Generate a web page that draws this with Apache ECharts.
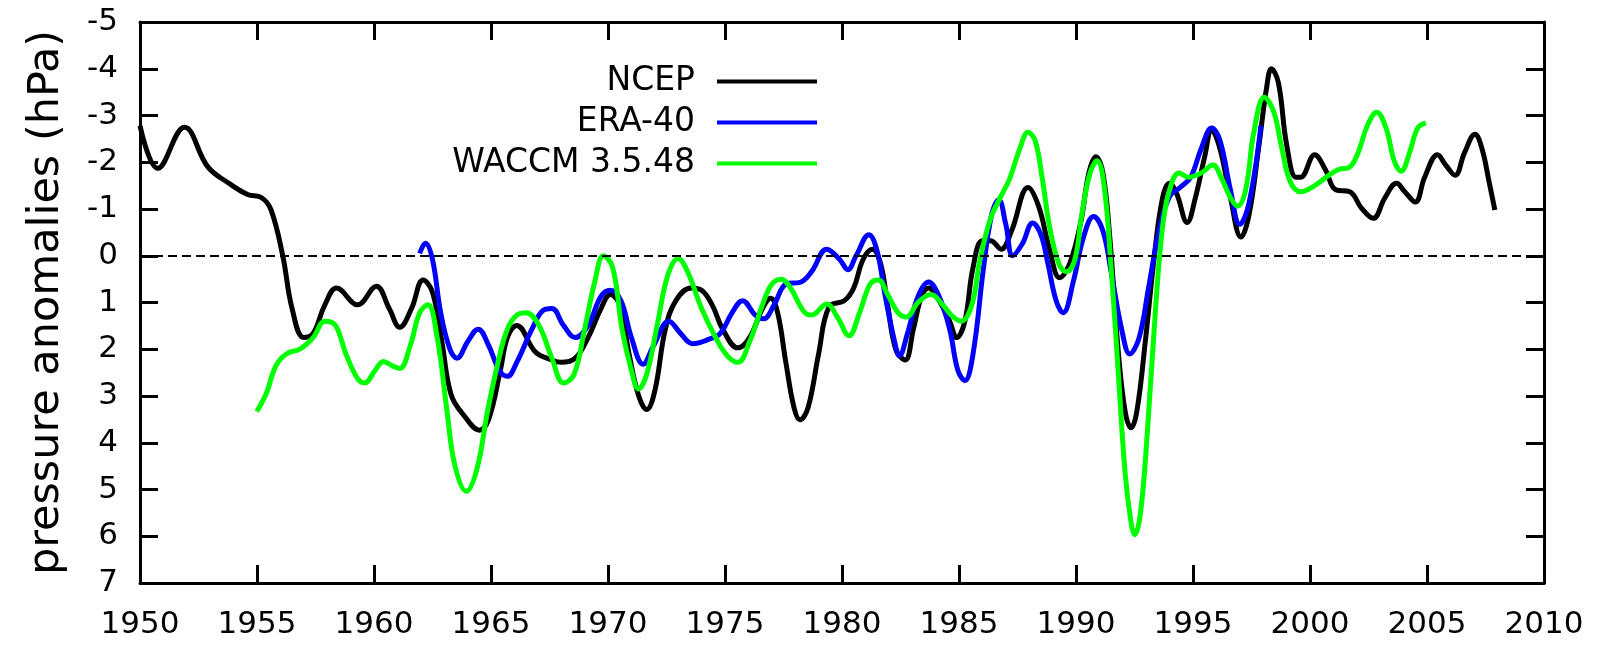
<!DOCTYPE html>
<html>
<head>
<meta charset="utf-8">
<title>pressure anomalies</title>
<script src="https://cdn.jsdelivr.net/npm/echarts@6/dist/echarts.min.js"></script>
<style>
html, body { margin: 0; padding: 0; background: #fff; }
#chart { width: 1602px; height: 645px; }
</style>
</head>
<body>
<div id="chart"></div>
<script>
// values (hPa, axis drawn upside down)
var ncepYears = [1950.0, 1950.76, 1951.9, 1952.9, 1953.8, 1954.6, 1955.2, 1955.6, 1956.1, 1956.5, 1957.0, 1957.4, 1957.9, 1958.4, 1959.3, 1960.1, 1960.65, 1961.1, 1961.6, 1962.1, 1962.5, 1962.9, 1963.3, 1963.85, 1964.5, 1964.9, 1965.4, 1965.7, 1966.1, 1966.9, 1967.6, 1968.0, 1968.6, 1969.15, 1969.7, 1970.1, 1970.5, 1970.9, 1971.3, 1971.65, 1972.0, 1972.45, 1972.9, 1973.55, 1974.0, 1974.45, 1974.9, 1975.55, 1976.05, 1976.6, 1976.95, 1977.25, 1977.6, 1977.95, 1978.2, 1978.55, 1979.0, 1979.45, 1980.1, 1980.5, 1980.9, 1981.3, 1981.65, 1981.95, 1982.3, 1982.7, 1983.05, 1983.4, 1983.7, 1984.15, 1984.6, 1984.9, 1985.25, 1985.6, 1986.0, 1986.35, 1986.8, 1987.25, 1987.95, 1988.4, 1988.85, 1989.3, 1989.73, 1990.2, 1990.55, 1990.85, 1991.15, 1991.45, 1991.8, 1992.1, 1992.35, 1992.6, 1992.98, 1993.35, 1993.7, 1994.0, 1994.3, 1994.75, 1995.1, 1995.5, 1995.8, 1996.15, 1996.6, 1997.05, 1997.4, 1997.8, 1998.15, 1998.35, 1998.65, 1999.0, 1999.4, 1999.6, 2000.2, 2000.65, 2001.1, 2001.7, 2002.2, 2002.7, 2003.2, 2003.7, 2004.05, 2004.5, 2004.9, 2005.45, 2005.8, 2006.2, 2006.6, 2007.05, 2007.35, 2007.65, 2007.9]
var ncepValues = [-2.78, -1.87, -2.75, -1.90, -1.55, -1.31, -1.24, -0.98, 0, 1.13, 1.75, 1.66, 1.05, 0.69, 1.05, 0.65, 1.13, 1.53, 1.13, 0.52, 0.78, 1.84, 2.98, 3.42, 3.73, 3.5, 2.45, 1.75, 1.49, 2.06, 2.23, 2.28, 2.19, 1.75, 1.13, 0.83, 1.05, 2.10, 2.98, 3.29, 2.89, 1.57, 0.96, 0.69, 0.74, 1.05, 1.57, 1.97, 1.75, 1.13, 0.91, 1.22, 2.28, 3.25, 3.51, 3.25, 2.10, 1.09, 0.96, 0.69, 0.08, -0.14, 0.17, 1.05, 2.01, 2.23, 1.57, 0.87, 0.69, 0.96, 1.40, 1.75, 1.40, 0.25, -0.32, -0.32, -0.14, -0.54, -1.46, -1.06, -0.18, 0.47, 0.17, -0.71, -1.77, -2.12, -1.77, -0.36, 2.01, 3.33, 3.68, 3.33, 1.75, 0, -1.24, -1.55, -1.33, -0.71, -1.24, -2.12, -2.69, -2.29, -1.24, -0.4, -0.89, -2.29, -3.61, -4.0, -3.70, -2.38, -1.68, -1.68, -2.16, -1.85, -1.41, -1.37, -1.02, -0.80, -1.24, -1.55, -1.37, -1.15, -1.68, -2.16, -1.94, -1.72, -2.2, -2.60, -2.29, -1.59, -0.98]

var eraYears = [1961.95, 1962.2, 1962.5, 1962.85, 1963.25, 1963.55, 1964.0, 1964.45, 1964.9, 1965.35, 1965.7, 1966.1, 1966.75, 1967.2, 1967.6, 1968.1, 1968.6, 1969.15, 1969.7, 1970.1, 1970.55, 1971.0, 1971.5, 1971.95, 1972.6, 1973.1, 1973.6, 1974.3, 1974.8, 1975.3, 1975.75, 1976.3, 1976.65, 1977.1, 1977.6, 1978.25, 1978.7, 1979.35, 1979.9, 1980.25, 1980.6, 1981.15, 1981.5, 1981.85, 1982.25, 1982.45, 1982.8, 1983.25, 1983.7, 1984.15, 1984.6, 1984.95, 1985.25, 1985.6, 1986.05, 1986.4, 1986.7, 1987.0, 1987.3, 1987.7, 1988.15, 1988.5, 1988.8, 1989.15, 1989.45, 1989.9, 1990.3, 1990.75, 1991.15, 1991.5, 1991.95, 1992.3, 1992.7, 1993.1, 1993.55, 1994.0, 1994.45, 1994.9, 1995.35, 1995.8, 1996.15, 1996.6, 1997.0, 1997.4, 1997.9]
var eraValues = [-0.05, -0.27, 0.08, 1.22, 2.01, 2.19, 1.84, 1.57, 1.92, 2.45, 2.58, 2.28, 1.57, 1.18, 1.13, 1.49, 1.75, 1.49, 0.87, 0.74, 0.96, 1.75, 2.32, 1.92, 1.40, 1.66, 1.88, 1.79, 1.66, 1.22, 0.96, 1.27, 1.35, 1.05, 0.61, 0.56, 0.34, -0.14, 0.08, 0.30, 0, -0.45, -0.10, 0.87, 1.84, 2.14, 1.66, 0.87, 0.56, 0.87, 1.57, 2.45, 2.67, 2.10, 0.25, -0.89, -1.20, -0.67, 0, -0.25, -0.70, -0.45, 0.17, 0.96, 1.22, 0.52, -0.36, -0.84, -0.53, 0.34, 1.57, 2.10, 1.75, 0.69, -0.54, -1.27, -1.46, -1.68, -2.29, -2.73, -2.47, -1.41, -0.67, -1.14, -2.78]

var wacYears = [1954.99, 1955.4, 1955.8, 1956.25, 1956.85, 1957.4, 1957.9, 1958.35, 1958.8, 1959.3, 1959.6, 1960.05, 1960.4, 1960.8, 1961.1, 1961.55, 1961.95, 1962.3, 1962.7, 1963.1, 1963.45, 1963.95, 1964.4, 1964.85, 1965.3, 1965.7, 1966.1, 1966.5, 1967.05, 1967.6, 1968.1, 1968.55, 1969.0, 1969.45, 1969.8, 1970.2, 1970.6, 1971.0, 1971.3, 1971.65, 1972.1, 1972.55, 1973.0, 1973.4, 1974.0, 1974.6, 1975.1, 1975.55, 1976.05, 1976.6, 1977.0, 1977.4, 1977.8, 1978.35, 1978.7, 1979.35, 1979.8, 1980.3, 1980.75, 1981.2, 1981.55, 1981.95, 1982.4, 1982.75, 1983.25, 1983.8, 1984.3, 1984.75, 1985.1, 1985.55, 1985.9, 1986.35, 1986.8, 1987.15, 1987.6, 1987.95, 1988.25, 1988.55, 1988.9, 1989.3, 1989.6, 1989.95, 1990.25, 1990.6, 1990.9, 1991.2, 1991.5, 1991.8, 1992.1, 1992.35, 1992.5, 1992.75, 1993.05, 1993.4, 1993.7, 1994.0, 1994.4, 1994.8, 1995.35, 1995.85, 1996.2, 1996.6, 1996.9, 1997.25, 1997.6, 1998.05, 1998.45, 1998.8, 1999.15, 1999.6, 2000.2, 2000.8, 2001.25, 2001.7, 2002.05, 2002.45, 2002.85, 2003.25, 2003.6, 2003.9, 2004.25, 2004.6, 2004.95]
var wacValues = [3.33, 2.94, 2.36, 2.10, 1.99, 1.75, 1.40, 1.49, 2.10, 2.63, 2.72, 2.45, 2.26, 2.36, 2.41, 1.92, 1.22, 1.05, 1.75, 3.24, 4.47, 5.04, 4.56, 3.33, 2.28, 1.57, 1.27, 1.22, 1.49, 2.19, 2.72, 2.54, 1.57, 0.52, 0, 0.25, 1.57, 2.45, 2.85, 2.54, 1.49, 0.43, 0.06, 0.34, 1.13, 1.75, 2.14, 2.28, 1.84, 1.05, 0.61, 0.50, 0.69, 1.18, 1.27, 1.03, 1.31, 1.71, 1.22, 0.61, 0.52, 0.83, 1.22, 1.31, 1.00, 0.83, 1.05, 1.31, 1.40, 1.05, 0.08, -0.80, -1.28, -1.63, -2.29, -2.64, -2.47, -1.68, -0.54, 0.21, 0.34, 0.08, -0.89, -1.77, -2.03, -1.50, 0.25, 2.45, 4.65, 5.70, 5.97, 5.53, 3.77, 1.13, -0.62, -1.41, -1.77, -1.68, -1.77, -1.94, -1.68, -1.24, -1.06, -1.41, -2.64, -3.39, -3.08, -2.29, -1.59, -1.37, -1.50, -1.72, -1.85, -1.90, -2.20, -2.78, -3.07, -2.73, -2.03, -1.81, -2.20, -2.73, -2.84]

var seriesNames = ['NCEP', 'ERA-40', 'WACCM 3.5.48']
var seriesColors = ['#000000', '#0000ff', '#00ff00']

var font = 'DejaVu Sans'

function pairs (xs, ys) {
  return xs.map(function (x, i) { return [x, ys[i]] })
}

var myChart = echarts.init(document.getElementById('chart'))

// frame: all four sides, ticks pointing in
var axisLine = { show: true, onZero: false, lineStyle: { color: '#000', width: 3 } }
var axisTick = { show: true, inside: true, length: 18, lineStyle: { color: '#000', width: 3 } }
var plainLabel = function (v) { return String(v) }

function lineSeries (i, data) {
  return {
    name: seriesNames[i],
    type: 'line',
    data: data,
    smooth: 0.4,
    symbol: 'none',
    color: seriesColors[i],
    lineStyle: { color: seriesColors[i], width: 5 }
  }
}

var ncep = lineSeries(0, pairs(ncepYears, ncepValues))
// zero line
ncep.markLine = {
  silent: true,
  symbol: ['none', 'none'],
  label: { show: false },
  lineStyle: { color: '#000', type: [9, 5], width: 2 },
  data: [{ yAxis: 0 }]
}

var option = {
  animation: false,
  backgroundColor: '#fff',
  textStyle: { fontFamily: font },
  grid: { left: 140, right: 58, top: 22, bottom: 62 },
  legend: {
    orient: 'vertical',
    right: 780,
    top: 60,
    align: 'right',
    icon: 'rect',
    itemWidth: 100,
    itemHeight: 4,
    itemGap: 8,
    textStyle: { fontSize: 33, color: '#000', fontFamily: font, padding: [0, 17, 0, 0] },
    data: seriesNames
  },
  xAxis: [
    {
      type: 'value',
      min: 1950,
      max: 2010,
      interval: 5,
      position: 'bottom',
      axisLine: axisLine,
      axisTick: axisTick,
      splitLine: { show: false },
      axisLabel: { fontSize: 31, color: '#000', fontFamily: font, margin: 26, formatter: plainLabel }
    },
    {
      type: 'value',
      min: 1950,
      max: 2010,
      interval: 5,
      position: 'top',
      axisLine: axisLine,
      axisTick: axisTick,
      splitLine: { show: false },
      axisLabel: { show: false }
    }
  ],
  yAxis: [
    {
      type: 'value',
      inverse: true,
      min: -5,
      max: 7,
      interval: 1,
      position: 'left',
      name: 'pressure anomalies (hPa)',
      nameLocation: 'middle',
      nameGap: 72,
      nameTextStyle: { fontSize: 43, color: '#000', fontFamily: font },
      axisLine: axisLine,
      axisTick: axisTick,
      splitLine: { show: false },
      axisLabel: { fontSize: 31, color: '#000', fontFamily: font, margin: 22, formatter: plainLabel }
    },
    {
      type: 'value',
      inverse: true,
      min: -5,
      max: 7,
      interval: 1,
      position: 'right',
      axisLine: axisLine,
      axisTick: axisTick,
      splitLine: { show: false },
      axisLabel: { show: false }
    }
  ],
  series: [
    ncep,
    lineSeries(1, pairs(eraYears, eraValues)),
    lineSeries(2, pairs(wacYears, wacValues))
  ]
}

myChart.setOption(option)
</script>
</body>
</html>
